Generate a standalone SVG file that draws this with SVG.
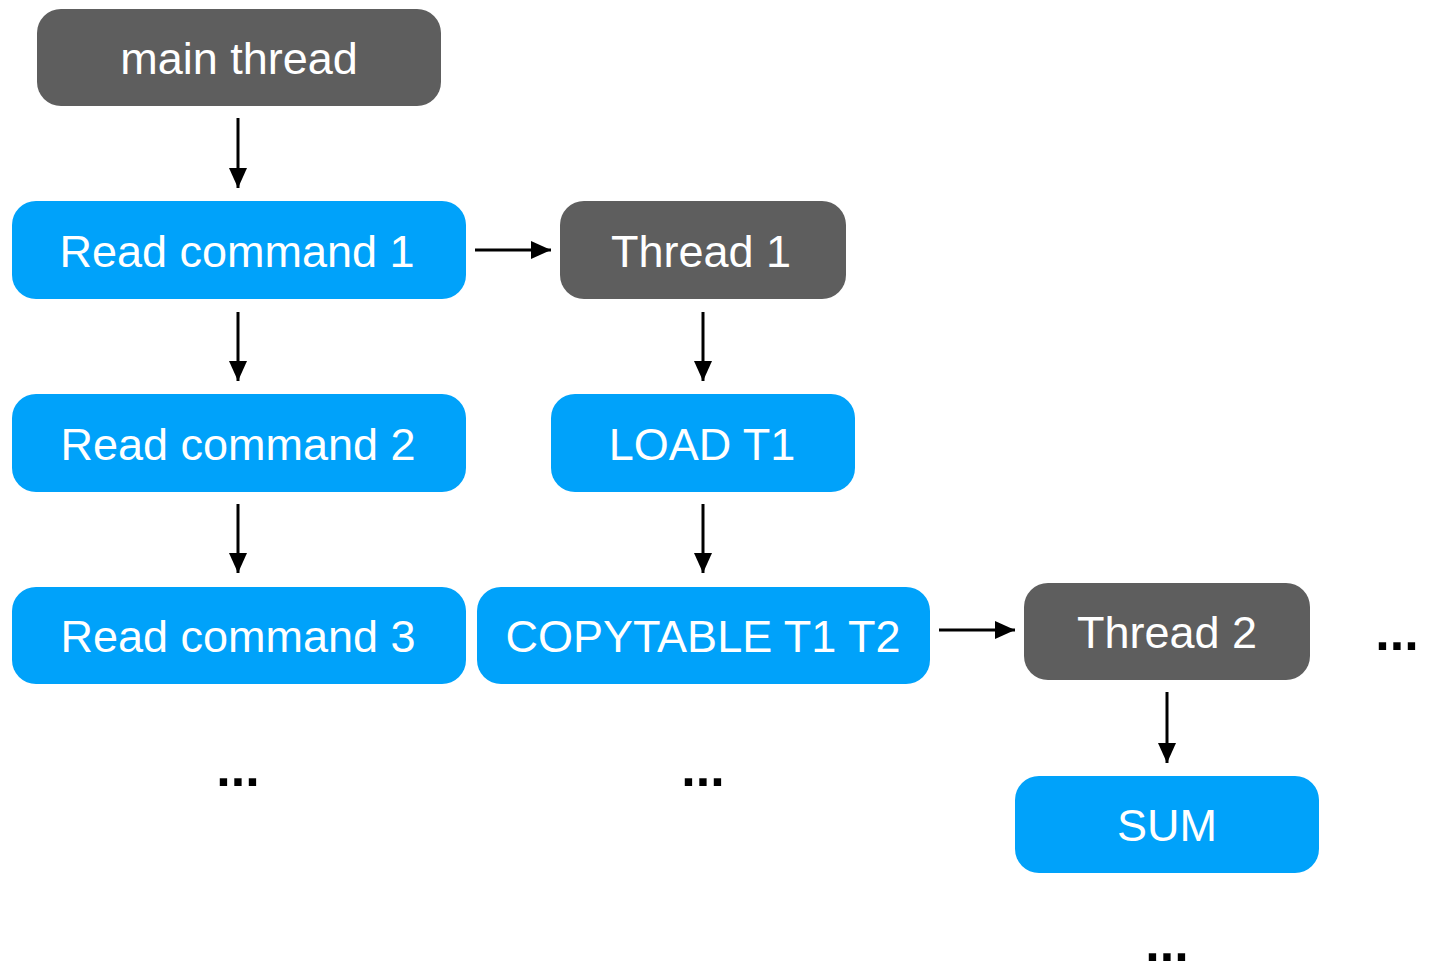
<svg xmlns="http://www.w3.org/2000/svg" width="1437" height="967" viewBox="0 0 1437 967">
<defs>
<marker id="a" viewBox="0 0 20 18" refX="20" refY="9" markerWidth="20" markerHeight="18" markerUnits="userSpaceOnUse" orient="auto">
<path d="M0,0 L20,9 L0,18 z" fill="#000"/>
</marker>
</defs>
<style>
.blue{fill:#00A2FA}
.gray{fill:#5E5E5E}
.t{font-family:"Liberation Sans",Arial,sans-serif;font-size:45px;fill:#fff;text-anchor:middle}
.dots{font-family:"Liberation Sans",Arial,sans-serif;font-size:52px;font-weight:bold;fill:#000;text-anchor:middle}
.c{stroke:#000;stroke-width:3;fill:none;marker-end:url(#a)}
</style>
<rect width="1437" height="967" fill="#fff"/>
<g id="connectors">
<line class="c" x1="238" y1="118" x2="238" y2="188"/>
<line class="c" x1="475" y1="250" x2="551" y2="250"/>
<line class="c" x1="238" y1="312" x2="238" y2="381"/>
<line class="c" x1="703" y1="312" x2="703" y2="381"/>
<line class="c" x1="238" y1="504" x2="238" y2="573"/>
<line class="c" x1="703" y1="504" x2="703" y2="573"/>
<line class="c" x1="939" y1="630" x2="1015" y2="630"/>
<line class="c" x1="1167" y1="692" x2="1167" y2="763"/>
</g>
<g id="main-thread"><rect class="gray" x="37" y="9" width="404" height="97" rx="24"/><text class="t" x="239" y="74">main thread</text></g>
<g id="read-command-1"><rect class="blue" x="12" y="201" width="454" height="98" rx="24"/><text class="t" x="237" y="267">Read command 1</text></g>
<g id="thread-1"><rect class="gray" x="560" y="201" width="286" height="98" rx="24"/><text class="t" x="701" y="267">Thread 1</text></g>
<g id="read-command-2"><rect class="blue" x="12" y="394" width="454" height="98" rx="24"/><text class="t" x="238" y="460">Read command 2</text></g>
<g id="load-t1"><rect class="blue" x="551" y="394" width="304" height="98" rx="24"/><text class="t" x="702" y="460">LOAD T1</text></g>
<g id="read-command-3"><rect class="blue" x="12" y="587" width="454" height="97" rx="24"/><text class="t" x="238" y="652">Read command 3</text></g>
<g id="copytable"><rect class="blue" x="477" y="587" width="453" height="97" rx="24"/><text class="t" x="703" y="652">COPYTABLE T1 T2</text></g>
<g id="thread-2"><rect class="gray" x="1024" y="583" width="286" height="97" rx="24"/><text class="t" x="1167" y="648">Thread 2</text></g>
<g id="sum"><rect class="blue" x="1015" y="776" width="304" height="97" rx="24"/><text class="t" x="1167" y="841">SUM</text></g>
<g id="ellipses">
<text class="dots" x="238" y="786">...</text>
<text class="dots" x="703" y="786">...</text>
<text class="dots" x="1397" y="650">...</text>
<text class="dots" x="1167" y="961">...</text>
</g>
</svg>
